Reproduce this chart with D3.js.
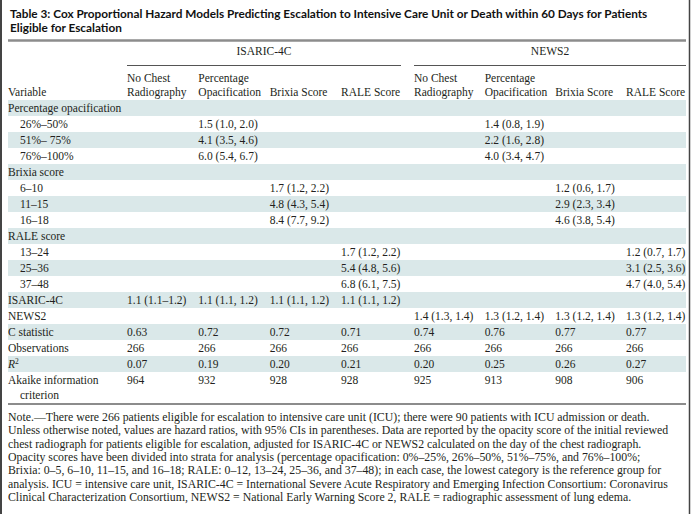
<!DOCTYPE html>
<html><head><meta charset="utf-8">
<script src="https://cdn.jsdelivr.net/npm/d3@7"></script>
<style>
html,body{margin:0;padding:0;background:#fff;}
svg{display:block;}
</style></head>
<body>
<script>
// ---------- data ----------
const titleLines = [
  "Table 3: Cox Proportional Hazard Models Predicting Escalation to Intensive Care Unit or Death within 60 Days for Patients",
  "Eligible for Escalation"
];
const groups = ["ISARIC-4C", "NEWS2"];
const columnHeads = [["No Chest", "Radiography"], ["Percentage", "Opacification"], ["Brixia Score", ""], ["RALE Score", ""]];
const rowLabels = ["Percentage opacification", "26%–50%", "51%– 75%", "76%–100%",
  "Brixia score", "6–10", "11–15", "16–18",
  "RALE score", "13–24", "25–36", "37–48",
  "ISARIC-4C", "NEWS2", "C statistic", "Observations", "R2", "Akaike information criterion"];
const rowIsSub = [false, true, true, true, false, true, true, true, false, true, true, true, false, false, false, false, false, false];

const isaricNoCxr  = ["", "", "", "", "", "", "", "", "", "", "", "", "1.1 (1.1–1.2)", "", "0.63", "266", "0.07", "964"];
const isaricPct    = ["", "1.5 (1.0, 2.0)", "4.1 (3.5, 4.6)", "6.0 (5.4, 6.7)", "", "", "", "", "", "", "", "", "1.1 (1.1, 1.2)", "", "0.72", "266", "0.19", "932"];
const isaricBrixia = ["", "", "", "", "", "1.7 (1.2, 2.2)", "4.8 (4.3, 5.4)", "8.4 (7.7, 9.2)", "", "", "", "", "1.1 (1.1, 1.2)", "", "0.72", "266", "0.20", "928"];
const isaricRale   = ["", "", "", "", "", "", "", "", "", "1.7 (1.2, 2.2)", "5.4 (4.8, 5.6)", "6.8 (6.1, 7.5)", "1.1 (1.1, 1.2)", "", "0.71", "266", "0.21", "928"];
const newsNoCxr    = ["", "", "", "", "", "", "", "", "", "", "", "", "", "1.4 (1.3, 1.4)", "0.74", "266", "0.20", "925"];
const newsPct      = ["", "1.4 (0.8, 1.9)", "2.2 (1.6, 2.8)", "4.0 (3.4, 4.7)", "", "", "", "", "", "", "", "", "", "1.3 (1.2, 1.4)", "0.76", "266", "0.25", "913"];
const newsBrixia   = ["", "", "", "", "", "1.2 (0.6, 1.7)", "2.9 (2.3, 3.4)", "4.6 (3.8, 5.4)", "", "", "", "", "", "1.3 (1.2, 1.4)", "0.77", "266", "0.26", "908"];
const newsRale     = ["", "", "", "", "", "", "", "", "", "1.2 (0.7, 1.7)", "3.1 (2.5, 3.6)", "4.7 (4.0, 5.4)", "", "1.3 (1.2, 1.4)", "0.77", "266", "0.27", "906"];

const noteLines = [
  "Note.—There were 266 patients eligible for escalation to intensive care unit (ICU); there were 90 patients with ICU admission or death.",
  "Unless otherwise noted, values are hazard ratios, with 95% CIs in parentheses. Data are reported by the opacity score of the initial reviewed",
  "chest radiograph for patients eligible for escalation, adjusted for ISARIC-4C or NEWS2 calculated on the day of the chest radiograph.",
  "Opacity scores have been divided into strata for analysis (percentage opacification: 0%–25%, 26%–50%, 51%–75%, and 76%–100%;",
  "Brixia: 0–5, 6–10, 11–15, and 16–18; RALE: 0–12, 13–24, 25–36, and 37–48); in each case, the lowest category is the reference group for",
  "analysis. ICU = intensive care unit, ISARIC-4C = International Severe Acute Respiratory and Emerging Infection Consortium: Coronavirus",
  "Clinical Characterization Consortium, NEWS2 = National Early Warning Score 2, RALE = radiographic assessment of lung edema."
];

// ---------- layout ----------
const W = 692, H = 514;
const SERIF = "'Liberation Serif', 'DejaVu Serif', serif";
const SANS = "Lato, 'Open Sans', 'DejaVu Sans', sans-serif";
const txt = "#231f20";
const shade = "#dae8e9";
const FS = 11.5;

const svg = d3.select("body").append("svg").attr("width", W).attr("height", H);

const left = 8, right = 686;
const groupCols = [[isaricNoCxr, isaricPct, isaricBrixia, isaricRale], [newsNoCxr, newsPct, newsBrixia, newsRale]];
const xGroup = [
  d3.scalePoint().domain(d3.range(4)).range([127, 341]),
  d3.scalePoint().domain(d3.range(4)).range([414, 626])
];
const groupSpan = [[127, 401], [414, 686]];

const rowH = 16;
const nRows = rowLabels.length;
const y = d3.scaleLinear().domain([0, nRows]).range([100, 100 + nRows * rowH]);

// title
const title = svg.append("g");
titleLines.forEach((t, i) => {
  title.append("text").attr("x", 10).attr("y", 18 + i * 14)
    .attr("font-family", SANS).attr("font-weight", 700).attr("font-size", 11.5)
    .attr("fill", "#111").text(t);
});
{
  const n = title.select("text").node();
  const w = n.getComputedTextLength();
  const fs = 11.5 * 638 / w;
  title.selectAll("text").attr("font-size", fs);
}

// thick rule
svg.append("line").attr("x1", left).attr("x2", right).attr("y1", 40.5).attr("y2", 40.5)
  .attr("stroke", "#8c8c8c").attr("stroke-width", 2.5);

// group headers
groups.forEach((g, gi) => {
  const [a, b] = groupSpan[gi];
  svg.append("text").attr("x", (a + b) / 2).attr("y", 55).attr("text-anchor", "middle")
    .attr("font-family", SERIF).attr("font-size", FS).attr("fill", txt).text(g);
  svg.append("line").attr("x1", a).attr("x2", b).attr("y1", 65.5).attr("y2", 65.5)
    .attr("stroke", "#555").attr("stroke-width", 1);
});

// column headers
svg.append("text").attr("x", left).attr("y", 96).attr("font-family", SERIF).attr("font-size", FS)
  .attr("fill", txt).text("Variable");
groups.forEach((g, gi) => {
  columnHeads.forEach((lines, ci) => {
    const x = xGroup[gi](ci);
    if (lines[1]) {
      svg.append("text").attr("x", x).attr("y", 82).attr("font-family", SERIF).attr("font-size", FS).attr("fill", txt).text(lines[0]);
      svg.append("text").attr("x", x).attr("y", 96).attr("font-family", SERIF).attr("font-size", FS).attr("fill", txt).text(lines[1]);
    } else {
      svg.append("text").attr("x", x).attr("y", 96).attr("font-family", SERIF).attr("font-size", FS).attr("fill", txt).text(lines[0]);
    }
  });
});

// row shading
const rows = svg.append("g");
rows.selectAll("rect").data(d3.range(nRows).filter(i => i % 2 === 0)).join("rect")
  .attr("x", left).attr("width", right - left)
  .attr("y", i => y(i)).attr("height", rowH)
  .attr("fill", shade);

// row labels
rowLabels.forEach((lab, i) => {
  const t = rows.append("text").attr("x", rowIsSub[i] ? 20 : left).attr("y", y(i) + 12)
    .attr("font-family", SERIF).attr("font-size", FS).attr("fill", txt);
  if (lab === "R2") {
    t.append("tspan").attr("font-style", "italic").text("R");
    t.append("tspan").attr("font-size", 7.5).attr("dy", -4).text("2");
  } else if (lab === "Akaike information criterion") {
    t.text("Akaike information");
    rows.append("text").attr("x", 20).attr("y", y(i) + 27)
      .attr("font-family", SERIF).attr("font-size", FS).attr("fill", txt).text("criterion");
  } else {
    t.text(lab);
  }
});

// values
groupCols.forEach((cols, gi) => {
  cols.forEach((vals, ci) => {
    rows.append("g").selectAll("text").data(vals.map((v, i) => ({v, i})).filter(d => d.v)).join("text")
      .attr("x", xGroup[gi](ci)).attr("y", d => y(d.i) + 12)
      .attr("font-family", SERIF).attr("font-size", FS).attr("fill", txt)
      .text(d => d.v);
  });
});

// bottom rule
const ruleY = y(nRows) + 16;
svg.append("line").attr("x1", left).attr("x2", right).attr("y1", ruleY).attr("y2", ruleY)
  .attr("stroke", "#8c8c8c").attr("stroke-width", 2);

// notes
const notes = svg.append("g");
noteLines.forEach((t, i) => {
  notes.append("text").attr("x", left).attr("y", ruleY + 17 + i * 13.3)
    .attr("font-family", SERIF).attr("font-size", 11.8).attr("fill", txt).text(t);
});
notes.selectAll("text").each(function () {
  const w = this.getComputedTextLength();
  if (w > 676) d3.select(this).attr("textLength", 676).attr("lengthAdjust", "spacingAndGlyphs");
});

// frame sides
svg.append("line").attr("x1", 1).attr("x2", 1).attr("y1", 0).attr("y2", H).attr("stroke", "#444").attr("stroke-width", 2);
svg.append("line").attr("x1", 689.5).attr("x2", 689.5).attr("y1", 0).attr("y2", H).attr("stroke", "#444").attr("stroke-width", 1.5);
</script>
</body></html>
